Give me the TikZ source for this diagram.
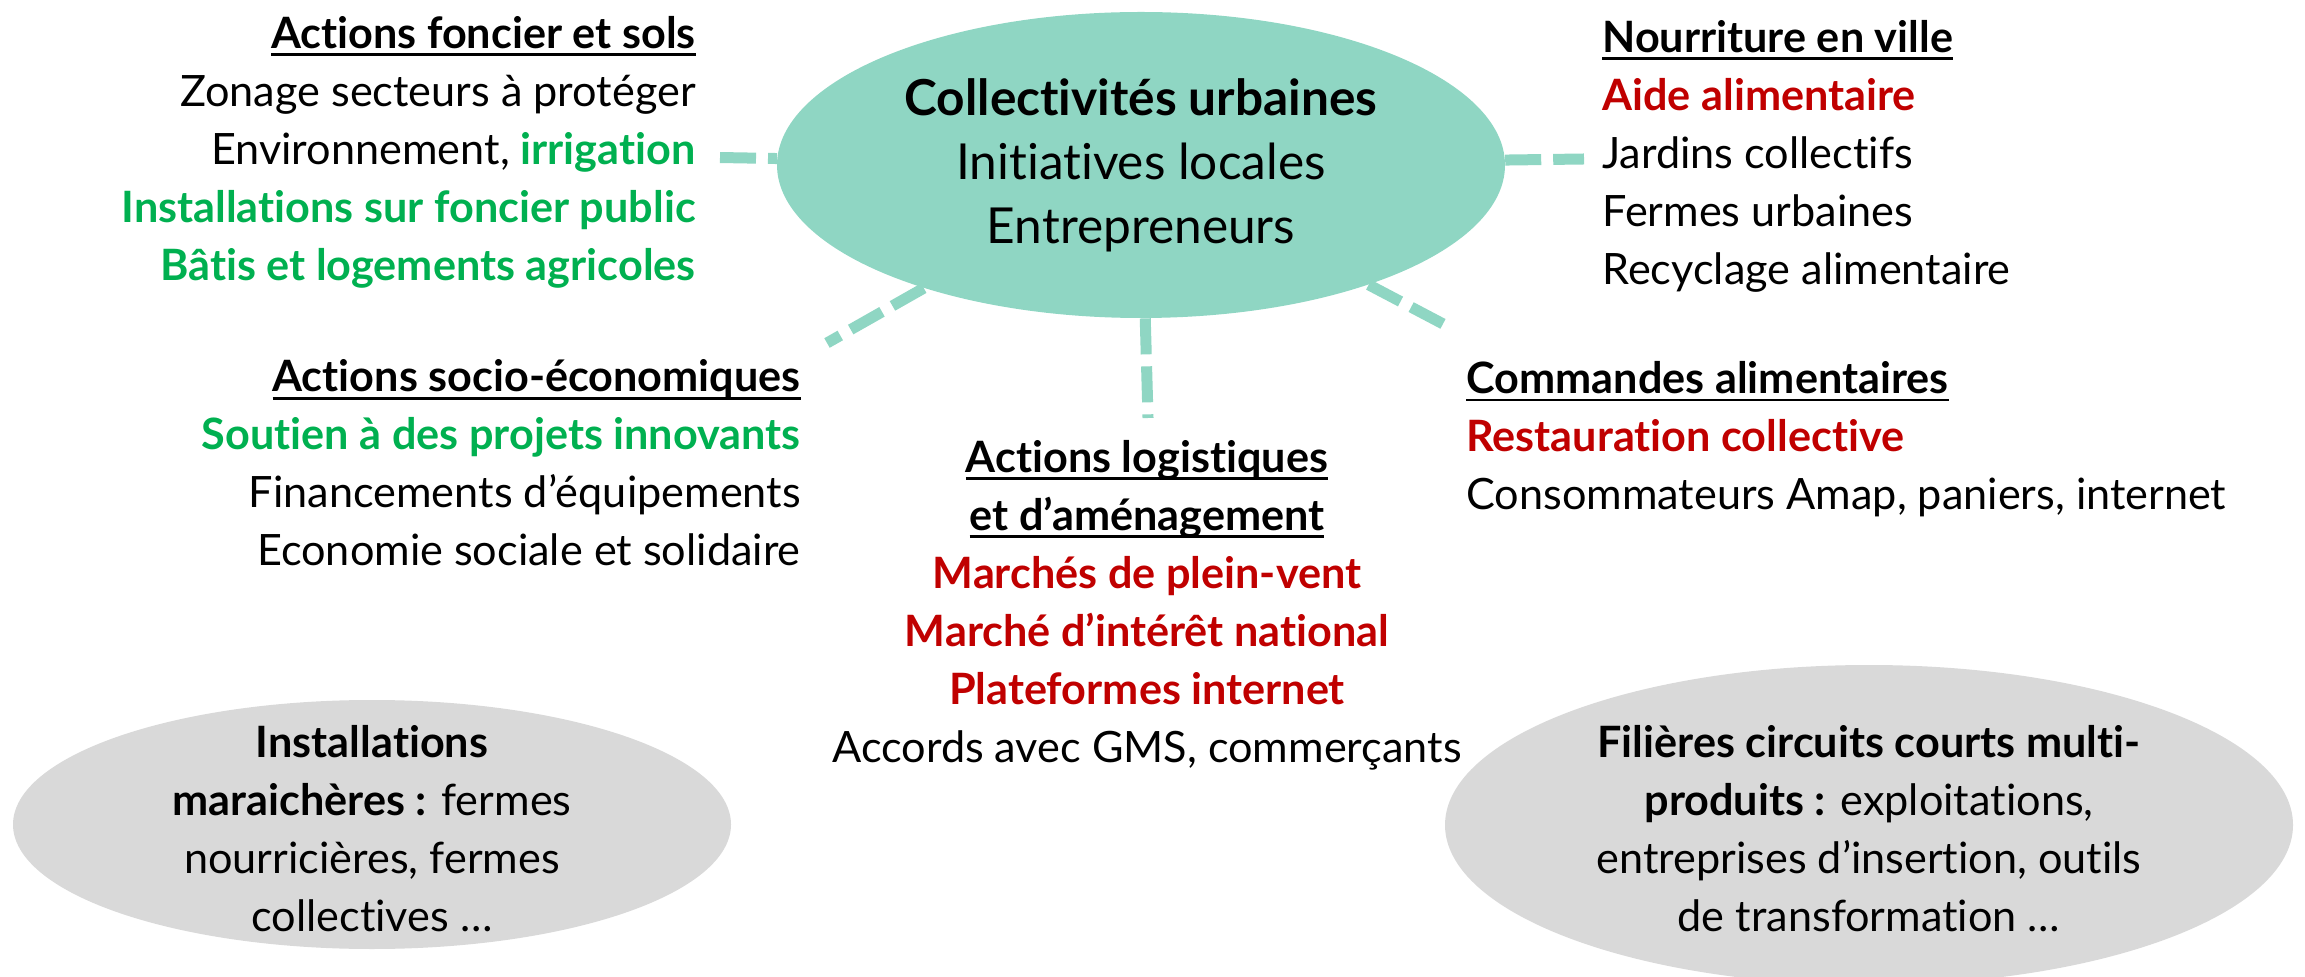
\documentclass[tikz,border=0pt]{standalone}
\usepackage{fontspec}
\setmainfont{Lato}[Ligatures=NoCommon]
\usetikzlibrary{shapes.geometric}

\definecolor{turquoise}{HTML}{8FD6C3}
\definecolor{grisclair}{HTML}{D9D9D9}
\definecolor{vertact}{HTML}{00B050}
\definecolor{rougeact}{HTML}{C00000}

\newcommand{\souligne}[1]{\setbox0\hbox{\textbf{#1}}\rlap{\rule[-4pt]{\wd0}{1.4pt}}\box0}
\newcommand{\envert}[1]{\textcolor{vertact}{\textbf{#1}}}
\newcommand{\enrouge}[1]{\textcolor{rougeact}{\textbf{#1}}}

\begin{document}
\begin{tikzpicture}[x=0.5pt,y=-0.5pt,
  texte/.style={inner sep=0pt,font=\fontsize{21.6}{29}\selectfont},
  blocg/.style={texte,align=right,anchor=east},
  blocd/.style={texte,align=left,anchor=west},
  blocc/.style={texte,align=center},
  centre/.style={ellipse,fill=turquoise,inner sep=0pt,minimum width=364pt,minimum height=153pt,align=center,font=\fontsize{24.8}{32}\selectfont},
  filiere/.style={ellipse,fill=grisclair,inner sep=0pt},
  lien/.style={draw=turquoise,line width=5.5pt,dash pattern=on 18pt off 6pt}]
\useasboundingbox (0,0) rectangle (2305,977);

% noeud central
\node[centre] (collectivites) at (1141,165) {\textbf{Collectivités urbaines}\\Initiatives locales\\Entrepreneurs};

% blocs d'actions
\node[blocg,inner xsep=12pt] (foncier) at (720,152) {\souligne{Actions foncier et sols}\\Zonage secteurs à protéger\\Environnement, \envert{irrigation}\\\envert{Installations sur foncier public}\\\envert{Bâtis et logements agricoles}};
\node[blocg] (socio) at (801,463) {\souligne{Actions socio-économiques}\\\envert{Soutien à des projets innovants}\\Financements d’équipements\\Economie sociale et solidaire};
\node[blocc] (logistique) at (1147,605) {\souligne{Actions logistiques}\\\souligne{et d’aménagement}\\\enrouge{Marchés de plein-vent}\\\enrouge{Marché d’intérêt national}\\\enrouge{Plateformes internet}\\Accords avec GMS, commerçants};
\node[blocd,inner xsep=9pt] (nourriture) at (1584,156) {\souligne{Nourriture en ville}\\\enrouge{Aide alimentaire}\\Jardins collectifs\\Fermes urbaines\\Recyclage alimentaire};
\node[blocd] (commandes) at (1466,439) {\souligne{Commandes alimentaires}\\\enrouge{Restauration collective}\\Consommateurs Amap, paniers, internet};

% filieres
\node[filiere,minimum width=359pt,minimum height=124.5pt] (maraich) at (372,824.5) {};
\node[blocc] (maraichtxt) at (372,829) {\textbf{Installations}\\\textbf{maraichères :} fermes\\nourricières, fermes\\collectives …};
\node[filiere,minimum width=424pt,minimum height=160pt] (circuits) at (1869,825) {};
\node[blocc] (circuitstxt) at (1869,829) {\textbf{Filières circuits courts multi-}\\\textbf{produits :} exploitations,\\entreprises d’insertion, outils\\de transformation …};

% extremites libres
\coordinate (finsocio) at (827,343);
\coordinate (finlogistique) at (1148,418);
\coordinate (fincommandes) at (1447,326);

\draw[lien] (foncier) -- (collectivites);
\draw[lien] (collectivites) -- (nourriture);
\draw[lien] (collectivites) -- (finsocio);
\draw[lien] (collectivites) -- (finlogistique);
\draw[lien] (collectivites) -- (fincommandes);
\end{tikzpicture}
\end{document}
